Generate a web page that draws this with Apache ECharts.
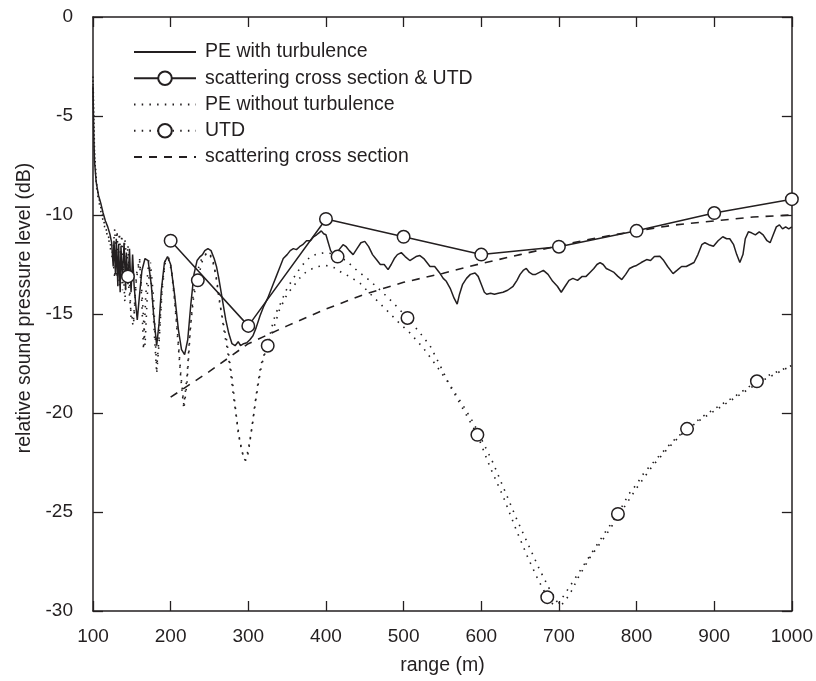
<!DOCTYPE html>
<html>
<head>
<meta charset="utf-8">
<script src="https://cdn.jsdelivr.net/npm/echarts@6/dist/echarts.min.js"></script>
<style>
html,body{margin:0;padding:0;background:#fff;}
#chart{width:816px;height:681px;}
</style>
</head>
<body>
<div id="chart"></div>
<script>
// ---------- data ----------
const seriesNames = ["PE with turbulence", "scattering cross section & UTD", "PE without turbulence", "UTD", "scattering cross section"];
const xTicks = [100, 200, 300, 400, 500, 600, 700, 800, 900, 1000];
const yTicks = [-30, -25, -20, -15, -10, -5, 0];

// PE with turbulence: [range m, level dB]
const peTurb = [[100,-3.5],[101,-6.0],[102,-7.3],[104,-8.3],[107,-9.0],[110,-9.4],[113,-9.9],[116,-10.3],[119,-10.6],[122,-11.0],[124,-11.4],[126,-12.6],[127,-11.3],[129,-13.0],[130,-11.2],[132,-13.6],[133,-11.5],[135,-13.9],[136,-11.6],[138,-13.2],[140,-11.4],[142,-13.8],[143,-11.9],[145,-13.5],[147,-11.7],[149,-13.9],[151,-12.0],[153,-13.6],[155,-14.5],[157,-15.3],[160,-14.0],[163,-12.8],[167,-12.2],[171,-12.3],[175,-13.5],[178,-15.0],[182,-16.6],[185,-15.5],[188,-13.8],[192,-12.4],[196,-12.1],[200,-12.5],[205,-14.0],[210,-15.8],[214,-16.8],[218,-17.05],[222,-16.3],[226,-14.5],[230,-13.0],[234,-12.3],[238,-12.1],[241,-12.0],[244,-11.8],[248,-11.7],[252,-11.8],[256,-12.2],[259,-12.6],[262,-13.2],[265,-13.9],[268,-14.6],[271,-15.3],[275,-16.0],[279,-16.5],[283,-16.6],[287,-16.4],[290,-16.6],[294,-16.5],[298,-16.45],[302,-16.3],[306,-16.1],[310,-15.7],[315,-15.1],[320,-14.6],[325,-14.2],[328,-13.9],[332,-13.5],[336,-13.1],[341,-12.6],[345,-12.2],[350,-12.0],[354,-11.8],[358,-11.7],[362,-11.75],[366,-11.6],[370,-11.5],[375,-11.3],[380,-11.3],[384,-11.1],[388,-11.0],[391,-10.9],[394,-10.8],[397,-10.95],[400,-11.0],[403,-11.4],[406,-11.8],[410,-12.0],[414,-11.9],[418,-11.7],[422,-11.5],[426,-11.6],[430,-11.8],[435,-12.0],[440,-11.7],[445,-11.4],[450,-11.33],[455,-11.6],[460,-12.0],[465,-12.25],[470,-12.5],[475,-12.5],[480,-12.76],[484,-12.5],[488,-12.2],[492,-12.0],[497,-11.9],[502,-12.1],[508,-12.3],[512,-12.2],[516,-12.1],[521,-12.05],[526,-12.2],[530,-12.4],[534,-12.6],[540,-12.6],[546,-12.9],[551,-13.2],[555,-13.35],[560,-13.7],[565,-14.2],[569,-14.5],[572,-14.0],[576,-13.5],[581,-13.2],[586,-13.0],[592,-12.93],[596,-13.1],[600,-13.5],[604,-13.9],[607,-14.0],[612,-13.95],[617,-14.0],[622,-13.95],[628,-13.9],[634,-13.8],[641,-13.6],[646,-13.3],[650,-13.0],[654,-12.8],[658,-12.7],[662,-12.9],[666,-13.0],[670,-13.0],[675,-12.9],[680,-12.8],[686,-13.0],[692,-13.35],[698,-13.6],[703,-13.9],[708,-13.6],[713,-13.3],[718,-13.2],[724,-13.3],[730,-13.1],[735,-13.1],[740,-12.9],[745,-12.7],[749,-12.5],[753,-12.4],[757,-12.5],[761,-12.7],[766,-12.8],[771,-12.9],[776,-13.1],[781,-13.26],[786,-13.0],[791,-12.7],[796,-12.6],[800,-12.55],[806,-12.4],[813,-12.25],[818,-12.3],[823,-12.1],[830,-12.08],[835,-12.3],[840,-12.6],[847,-12.96],[852,-12.8],[858,-12.6],[864,-12.6],[869,-12.5],[874,-12.4],[879,-12.0],[884,-11.5],[888,-11.4],[893,-11.5],[899,-11.58],[905,-11.3],[911,-11.1],[916,-11.2],[920,-11.2],[925,-11.5],[929,-12.0],[933,-12.4],[937,-12.0],[940,-11.2],[944,-10.85],[948,-10.9],[953,-11.0],[958,-10.85],[963,-11.0],[968,-11.3],[972,-11.4],[976,-11.0],[980,-10.6],[984,-10.5],[988,-10.7],[992,-10.6],[996,-10.7],[1000,-10.6]];

// scattering cross section & UTD
const scatUtd = [[200,-11.3],[300,-15.6],[400,-10.2],[500,-11.1],[600,-12.0],[700,-11.6],[800,-10.8],[900,-9.9],[1000,-9.2]];

// PE without turbulence
const peNoTurb = [[100,-3.0],[102,-6.8],[105,-8.6],[110,-9.6],[115,-10.5],[120,-11.1],[125,-11.9],[128,-13.2],[131,-10.8],[134,-13.6],[137,-11.0],[141,-14.4],[145,-11.5],[149,-15.2],[152,-15.6],[156,-13.2],[160,-12.3],[163,-14.5],[165,-16.8],[168,-14.0],[172,-12.3],[176,-13.8],[179,-16.0],[182,-18.0],[185,-16.5],[189,-13.8],[193,-12.4],[197,-12.2],[201,-12.8],[205,-14.3],[209,-16.2],[213,-18.2],[217,-19.8],[221,-18.5],[225,-16.0],[229,-14.0],[234,-12.9],[239,-12.3],[244,-12.0],[249,-11.9],[254,-12.3],[258,-13.0],[263,-14.4],[268,-15.5],[272,-16.3],[276,-17.4],[279,-18.2],[283,-19.6],[287,-21.0],[291,-21.8],[295,-22.4],[298,-22.2],[302,-21.4],[306,-20.4],[309,-19.5],[313,-18.5],[317,-17.6],[322,-16.9],[327,-16.3],[332,-15.8],[340,-14.8],[350,-14.0],[358,-13.6],[370,-13.0],[380,-12.75],[390,-12.6],[400,-12.55],[410,-12.65],[420,-12.9],[430,-13.1],[444,-13.45],[460,-14.1],[478,-14.8],[493,-15.4],[508,-15.95],[525,-16.7],[542,-17.6],[560,-18.6],[577,-19.65],[590,-20.5],[600,-21.3],[615,-22.5],[630,-23.9],[645,-25.3],[660,-26.6],[675,-27.9],[688,-28.9],[697,-29.5],[703,-29.7],[708,-29.5],[716,-29.0],[725,-28.3],[740,-27.3],[760,-26.2],[780,-25.0],[800,-23.8],[820,-22.7],[840,-21.8],[860,-21.0],[880,-20.4],[900,-19.9],[920,-19.4],[940,-18.9],[960,-18.4],[980,-18.0],[1000,-17.6]];

// UTD
const utd = [[100,-3.2],[102,-7.0],[105,-8.8],[110,-9.8],[115,-10.6],[120,-11.2],[125,-12.2],[128,-10.7],[131,-13.2],[134,-10.9],[138,-13.8],[141,-11.2],[145,-13.1],[149,-15.0],[152,-15.4],[156,-13.0],[160,-12.2],[164,-14.5],[167,-16.6],[170,-14.0],[174,-12.4],[178,-14.2],[182,-17.8],[185,-16.2],[189,-13.6],[193,-12.3],[197,-12.1],[201,-12.7],[205,-14.2],[209,-16.0],[213,-18.0],[217,-19.6],[221,-18.2],[225,-15.8],[230,-14.0],[235,-13.3],[240,-12.4],[245,-12.0],[250,-11.9],[255,-12.4],[259,-13.2],[264,-14.6],[269,-15.9],[273,-16.8],[277,-17.9],[281,-19.2],[285,-20.3],[289,-21.4],[293,-22.1],[297,-22.4],[300,-22.0],[304,-20.9],[308,-19.7],[312,-18.6],[316,-17.6],[320,-17.1],[325,-16.6],[330,-15.7],[335,-15.0],[341,-14.5],[350,-13.7],[358,-13.2],[368,-12.6],[380,-12.1],[390,-11.95],[400,-11.9],[407,-11.95],[415,-12.1],[426,-12.3],[440,-12.8],[456,-13.3],[470,-13.8],[487,-14.45],[505,-15.2],[520,-15.9],[534,-16.6],[547,-17.6],[560,-18.65],[578,-19.9],[595,-21.1],[611,-22.7],[628,-24.2],[645,-25.9],[660,-27.3],[673,-28.4],[685,-29.3],[693,-29.7],[700,-29.6],[710,-29.0],[720,-28.4],[730,-27.8],[740,-27.2],[750,-26.6],[760,-26.0],[776,-25.1],[790,-24.1],[800,-23.6],[810,-23.0],[826,-22.3],[840,-21.7],[850,-21.3],[865,-20.8],[886,-20.15],[900,-19.8],[910,-19.55],[925,-19.2],[940,-18.8],[955,-18.4],[970,-18.1],[985,-17.85],[1000,-17.6]];
const utdMarkerX = [145, 235, 325, 415, 505, 595, 685, 776, 865, 955];

// scattering cross section
const scatCross = [[200,-19.2],[250,-17.9],[300,-16.5],[350,-15.6],[400,-14.75],[450,-14.0],[500,-13.4],[550,-12.95],[600,-12.45],[650,-12.0],[700,-11.55],[750,-11.15],[800,-10.8],[850,-10.5],[900,-10.3],[950,-10.1],[1000,-10.0]];

// ---------- chart ----------
const INK = '#231f20';
const FONT = "'Liberation Sans', Arial, Helvetica, sans-serif";
const chart = echarts.init(document.getElementById('chart'), null, {renderer: 'canvas'});

const utdData = utd.map(p => utdMarkerX.indexOf(p[0]) >= 0 ? {value: p} : {value: p, symbol: 'none'});

const markerStyle = {color: '#fff', borderColor: INK, borderWidth: 1.5};
const hiddenMarker = {color: 'rgba(0,0,0,0)', borderColor: 'rgba(0,0,0,0)', borderWidth: 0};
const DOT = [1.5, 6.2];
const DASH = [8, 7];

const axisCommon = {
  type: 'value', min: 100, max: 1000, interval: 100,
  axisLine: {show: true, onZero: false, lineStyle: {color: INK, width: 1.5}},
  axisTick: {show: true, inside: true, length: 10, lineStyle: {color: INK, width: 1.3}},
  splitLine: {show: false}
};

chart.setOption({
  animation: false,
  backgroundColor: '#fff',
  textStyle: {fontFamily: FONT},
  grid: {left: 93, right: 24, top: 17, bottom: 69, containLabel: false},
  legend: {
    show: true,
    orient: 'vertical',
    left: 133, top: 42, padding: 0,
    itemWidth: 62, itemHeight: 17, itemGap: 6.25,
    textStyle: {fontFamily: FONT, fontSize: 19.5, color: INK, lineHeight: 20, padding: [0, 0, 0, 4]},
    data: seriesNames
  },
  xAxis: [
    Object.assign({}, axisCommon, {
      position: 'bottom',
      name: 'range (m)', nameLocation: 'middle', nameGap: 45,
      nameTextStyle: {fontFamily: FONT, fontSize: 19.5, color: INK},
      axisLabel: {show: true, margin: 16, fontFamily: FONT, fontSize: 19, color: INK,
        formatter: v => String(v)}
    }),
    Object.assign({}, axisCommon, {position: 'top', axisLabel: {show: false}})
  ],
  yAxis: [
    Object.assign({}, axisCommon, {
      min: -30, max: 0, interval: 5, position: 'left',
      name: 'relative sound pressure level (dB)', nameLocation: 'middle', nameGap: 55,
      nameTextStyle: {fontFamily: FONT, fontSize: 19.5, color: INK, padding: [0, 0, 0, 12]},
      axisLabel: {show: true, margin: 20, fontFamily: FONT, fontSize: 19, color: INK,
        formatter: v => String(v)}
    }),
    Object.assign({}, axisCommon, {min: -30, max: 0, interval: 5, position: 'right', axisLabel: {show: false}})
  ],
  series: [
    {
      name: seriesNames[0], type: 'line', data: peTurb, symbol: 'none',
      lineStyle: {color: INK, width: 1.5}, itemStyle: hiddenMarker, z: 3
    },
    {
      name: seriesNames[1], type: 'line', data: scatUtd, symbol: 'circle', symbolSize: 12.5,
      showAllSymbol: true,
      lineStyle: {color: INK, width: 1.5}, itemStyle: markerStyle, z: 6
    },
    {
      name: seriesNames[2], type: 'line', data: peNoTurb, symbol: 'none',
      lineStyle: {color: INK, width: 1.6, type: DOT}, itemStyle: hiddenMarker, z: 2
    },
    {
      name: seriesNames[3], type: 'line', data: utdData, symbol: 'circle', symbolSize: 12.5,
      showAllSymbol: true,
      lineStyle: {color: INK, width: 1.6, type: DOT}, itemStyle: markerStyle, z: 5
    },
    {
      name: seriesNames[4], type: 'line', data: scatCross, symbol: 'none',
      lineStyle: {color: INK, width: 1.6, type: DASH}, itemStyle: hiddenMarker, z: 2
    }
  ]
});
</script>
</body>
</html>
